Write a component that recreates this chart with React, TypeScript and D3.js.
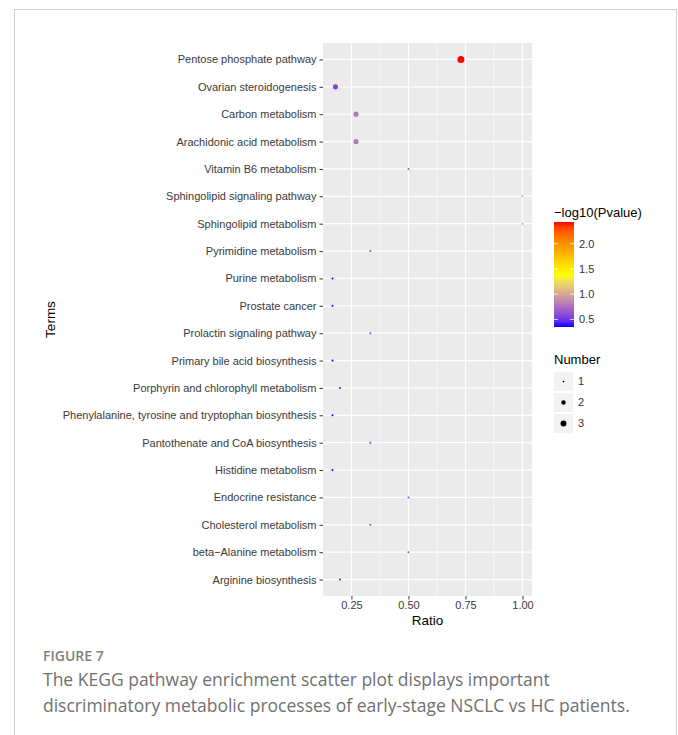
import { useEffect, useRef } from "react";
import * as d3 from "d3";

const terms = [
  "Pentose phosphate pathway",
  "Ovarian steroidogenesis",
  "Carbon metabolism",
  "Arachidonic acid metabolism",
  "Vitamin B6 metabolism",
  "Sphingolipid signaling pathway",
  "Sphingolipid metabolism",
  "Pyrimidine metabolism",
  "Purine metabolism",
  "Prostate cancer",
  "Prolactin signaling pathway",
  "Primary bile acid biosynthesis",
  "Porphyrin and chlorophyll metabolism",
  "Phenylalanine, tyrosine and tryptophan biosynthesis",
  "Pantothenate and CoA biosynthesis",
  "Histidine metabolism",
  "Endocrine resistance",
  "Cholesterol metabolism",
  "beta\u2212Alanine metabolism",
  "Arginine biosynthesis",
];
const ratio = [0.73, 0.18, 0.27, 0.27, 0.5, 1.0, 1.0, 0.333, 0.167, 0.167, 0.333, 0.167, 0.2, 0.167, 0.333, 0.167, 0.5, 0.333, 0.5, 0.2];
const logP = [2.43, 0.56, 0.8, 0.8, 0.66, 1.0, 1.0, 0.56, 0.35, 0.35, 0.56, 0.35, 0.4, 0.35, 0.56, 0.35, 0.6, 0.56, 0.6, 0.4];
const count = [3, 2, 2, 2, 1, 1, 1, 1, 1, 1, 1, 1, 1, 1, 1, 1, 1, 1, 1, 1];
const xTicks = [0.25, 0.5, 0.75, 1.0];
const colorTicks = [0.5, 1.0, 1.5, 2.0];
const sizeLevels = [1, 2, 3];

const App = () => {
  const svgRef = useRef<SVGSVGElement>(null);

  useEffect(() => {
    if (!svgRef.current) return;
    const svg = d3.select(svgRef.current);
    svg.selectAll("*").remove();

    const W = 678, H = 735;
    const panel = { left: 323, right: 532, top: 43, bottom: 596 };
    const font = "'Liberation Sans', Arial, sans-serif";

    // frame
    svg.append("rect").attr("x", 0).attr("y", 0).attr("width", W).attr("height", H).attr("fill", "#fff");
    svg.append("rect")
      .attr("x", 14.5).attr("y", 9.5).attr("width", 662).attr("height", 760)
      .attr("fill", "none").attr("stroke", "#d0d0d0");

    const xMin = d3.min(ratio)!, xMax = d3.max(ratio)!;
    const pad = (xMax - xMin) * 0.05;
    const x = d3.scaleLinear().domain([xMin - pad, xMax + pad]).range([panel.left, panel.right]);
    const y = d3.scalePoint<string>().domain(terms).range([panel.top, panel.bottom]).padding(0.6);

    const cMin = d3.min(logP)!, cMax = d3.max(logP)!;
    const color = d3.scaleLinear<string>()
      .domain([cMin, (cMin + cMax) / 2, cMax])
      .range(["#0000ff", "#ffff00", "#ff0000"])
      .interpolate(d3.interpolateLab);
    // area-proportional sizes, like ggplot's scale_size
    const area = d3.scaleLinear().domain([1, 3]).range([1.0, 3.5 * 3.5]);
    const size = (n: number) => Math.sqrt(area(n));

    // panel
    svg.append("rect")
      .attr("x", panel.left).attr("y", panel.top)
      .attr("width", panel.right - panel.left).attr("height", panel.bottom - panel.top)
      .attr("fill", "#ebebeb");

    const minor = xTicks.slice(0, -1).map((t, i) => (t + xTicks[i + 1]) / 2);
    minor.unshift(xTicks[0] - 0.125);
    svg.selectAll(".minor").data(minor.filter((m) => x(m) > panel.left)).enter().append("line")
      .attr("x1", (d) => x(d)).attr("x2", (d) => x(d))
      .attr("y1", panel.top).attr("y2", panel.bottom)
      .attr("stroke", "#fff").attr("stroke-width", 0.6);
    svg.selectAll(".majx").data(xTicks).enter().append("line")
      .attr("x1", (d) => x(d)).attr("x2", (d) => x(d))
      .attr("y1", panel.top).attr("y2", panel.bottom)
      .attr("stroke", "#fff").attr("stroke-width", 1.2);
    svg.selectAll(".majy").data(terms).enter().append("line")
      .attr("x1", panel.left).attr("x2", panel.right)
      .attr("y1", (d) => y(d)!).attr("y2", (d) => y(d)!)
      .attr("stroke", "#fff").attr("stroke-width", 1.2);

    // points
    svg.selectAll(".pt").data(terms).enter().append("circle")
      .attr("cx", (_, i) => x(ratio[i]))
      .attr("cy", (d) => y(d)!)
      .attr("r", (_, i) => size(count[i]))
      .attr("fill", (_, i) => color(logP[i]));

    // y axis
    const yAxis = svg.append("g").attr("transform", `translate(${panel.left},0)`)
      .call(d3.axisLeft(y).tickSize(3.5).tickPadding(3));
    yAxis.select(".domain").remove();
    yAxis.selectAll("line").attr("stroke", "#333").attr("stroke-width", 1);
    yAxis.selectAll("text").attr("fill", "#3a3a3a").style("font-family", font).style("font-size", "11px");

    // x axis
    const xAxis = svg.append("g").attr("transform", `translate(0,${panel.bottom})`)
      .call(d3.axisBottom(x).tickValues(xTicks).tickFormat(d3.format(".2f")).tickSize(3.5).tickPadding(2));
    xAxis.select(".domain").remove();
    xAxis.selectAll("line").attr("stroke", "#333").attr("stroke-width", 1);
    xAxis.selectAll("text").attr("fill", "#3a3a3a").style("font-family", font).style("font-size", "11px");

    svg.append("text").attr("x", (panel.left + panel.right) / 2).attr("y", 625)
      .attr("text-anchor", "middle").style("font-family", font).style("font-size", "13.5px").text("Ratio");
    svg.append("text").attr("transform", `translate(55,${(panel.top + panel.bottom) / 2}) rotate(-90)`)
      .attr("text-anchor", "middle").style("font-family", font).style("font-size", "13.5px").text("Terms");

    // colour legend
    const lx = 554;
    svg.append("text").attr("x", lx).attr("y", 217).style("font-family", font).style("font-size", "13px")
      .text("\u2212log10(Pvalue)");
    const barTop = 222, barBot = 327, barW = 20;
    const cy = d3.scaleLinear().domain([cMin, cMax]).range([barBot, barTop]);
    const defs = svg.append("defs");
    const grad = defs.append("linearGradient").attr("id", "cbar")
      .attr("x1", 0).attr("y1", 1).attr("x2", 0).attr("y2", 0);
    d3.range(0, 1.0001, 0.05).forEach((t) => {
      grad.append("stop").attr("offset", t).attr("stop-color", color(cMin + t * (cMax - cMin)));
    });
    svg.append("rect").attr("x", lx).attr("y", barTop).attr("width", barW).attr("height", barBot - barTop)
      .attr("fill", "url(#cbar)");
    colorTicks.forEach((t) => {
      const yy = cy(t);
      svg.append("line").attr("x1", lx).attr("x2", lx + 4).attr("y1", yy).attr("y2", yy)
        .attr("stroke", "#fff").attr("stroke-opacity", 0.8);
      svg.append("line").attr("x1", lx + barW - 4).attr("x2", lx + barW).attr("y1", yy).attr("y2", yy)
        .attr("stroke", "#fff").attr("stroke-opacity", 0.8);
      svg.append("text").attr("x", lx + barW + 5).attr("y", yy).attr("dy", "0.35em")
        .style("font-family", font).style("font-size", "11px").attr("fill", "#333")
        .text(d3.format(".1f")(t));
    });

    // size legend
    svg.append("text").attr("x", lx).attr("y", 364).style("font-family", font).style("font-size", "13px")
      .text("Number");
    sizeLevels.forEach((n, i) => {
      const top = 372 + i * 21;
      svg.append("rect").attr("x", lx).attr("y", top).attr("width", 19).attr("height", 19).attr("fill", "#f2f2f2");
      svg.append("circle").attr("cx", lx + 9.5).attr("cy", top + 9.5).attr("r", size(n) * 0.85).attr("fill", "#000");
      svg.append("text").attr("x", lx + 24).attr("y", top + 9.5).attr("dy", "0.35em")
        .style("font-family", font).style("font-size", "11px").attr("fill", "#333").text(n);
    });

    // caption
    const cap = "'Open Sans', 'Noto Sans', sans-serif";
    svg.append("text").attr("x", 43).attr("y", 661).style("font-family", cap).style("font-size", "14px")
      .style("font-weight", 600).attr("fill", "#808080").text("FIGURE 7");
    svg.append("text").attr("x", 43).attr("y", 686).style("font-family", cap).style("font-size", "17.5px")
      .attr("fill", "#707070").text("The KEGG pathway enrichment scatter plot displays important");
    svg.append("text").attr("x", 43).attr("y", 712).style("font-family", cap).style("font-size", "17.5px")
      .attr("fill", "#707070").text("discriminatory metabolic processes of early-stage NSCLC vs HC patients.");
  }, []);

  return (
    <svg ref={svgRef} width={678} height={735} style={{ position: "absolute", left: 0, top: 0 }} />
  );
};

export default App;
